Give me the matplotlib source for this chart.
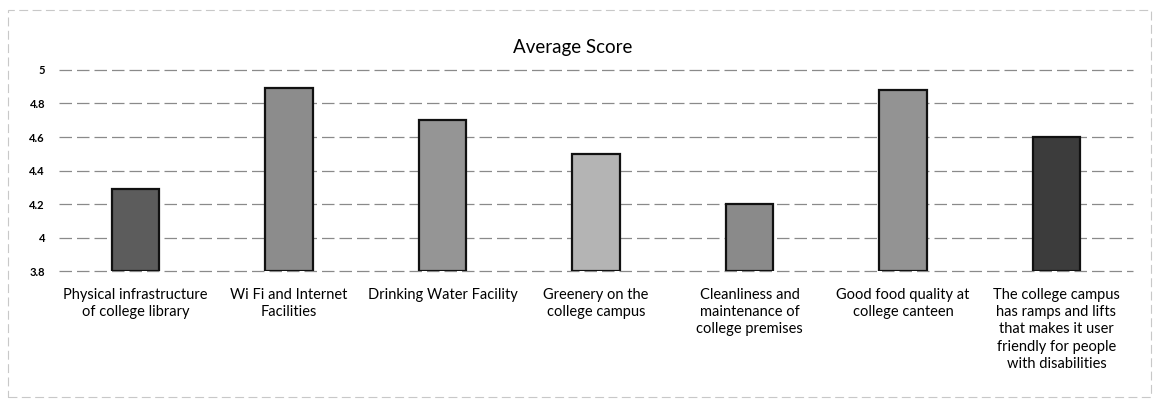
import matplotlib.pyplot as plt
from matplotlib.patches import Rectangle

categories = [
    "Physical infrastructure\nof college library",
    "Wi Fi and Internet\nFacilities",
    "Drinking Water Facility",
    "Greenery on the\ncollege campus",
    "Cleanliness and\nmaintenance of\ncollege premises",
    "Good food quality at\ncollege canteen",
    "The college campus\nhas ramps and lifts\nthat makes it user\nfriendly for people\nwith disabilities",
]
scores = [4.29, 4.89, 4.70, 4.50, 4.20, 4.88, 4.60]
bar_colors = ["#5c5c5c", "#8c8c8c", "#959595", "#b4b4b4", "#8a8a8a", "#939393", "#3c3c3c"]
yticks = [3.8, 4.0, 4.2, 4.4, 4.6, 4.8, 5.0]
ytick_labels = ["3.8", "4", "4.2", "4.4", "4.6", "4.8", "5"]

plt.rcParams['font.family'] = ['Lato', 'DejaVu Sans']

fig = plt.figure(figsize=(11.54, 4.09), dpi=100)
ax = fig.add_axes([0.051, 0.337, 0.931, 0.492])

x = range(len(categories))
ax.bar(x, [s - 3.8 for s in scores], bottom=3.8, width=0.31,
       color=bar_colors, edgecolor='#111111', linewidth=1.6, zorder=3)

ax.set_ylim(3.8, 5.0)
ax.set_xlim(-0.5, len(categories) - 0.5)
ax.set_yticks(yticks)
ax.set_yticklabels(ytick_labels, fontsize=8, fontweight='bold')
ax.set_xticks(list(x))
ax.set_xticklabels(categories, fontsize=10.5, linespacing=1.3)
ax.tick_params(axis='both', length=0)
ax.tick_params(axis='x', pad=12)
ax.tick_params(axis='y', pad=10)
ax.grid(axis='y', color='#8a8a8a', linestyle=(0, (10, 4)), linewidth=0.9, zorder=0)
for gl in ax.get_ygridlines():
    gl.set_clip_on(False)
for s in ax.spines.values():
    s.set_visible(False)

ax.set_title("Average Score", fontsize=13.5, pad=12, x=0.478)

# chart border
fig.patches.append(Rectangle((0.007, 0.03), 0.99, 0.945, transform=fig.transFigure,
                             fill=False, edgecolor='#c8c8c8', linewidth=0.8,
                             linestyle=(0, (8, 4))))

fig.savefig("out.png", dpi=100)
